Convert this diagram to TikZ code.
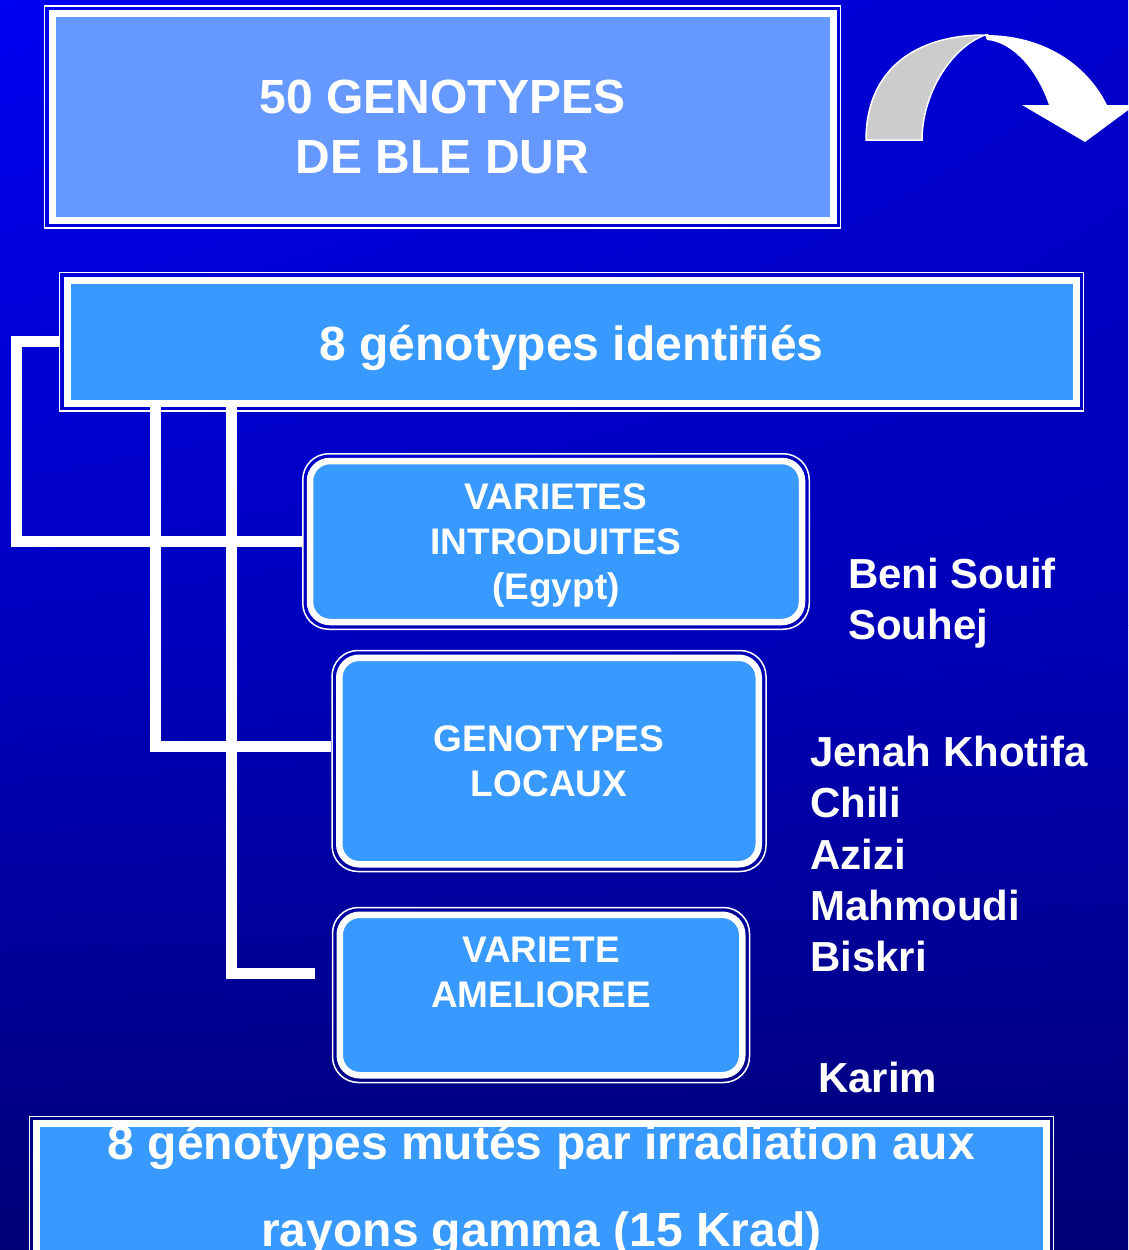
\documentclass[tikz,border=0pt]{standalone}
\usepackage{fontspec}
\setmainfont{Liberation Sans}
\usetikzlibrary{fit,shadings}
\definecolor{topleft}{RGB}{0,0,242}
\definecolor{topright}{RGB}{0,0,205}
\definecolor{midleft}{RGB}{0,0,192}
\definecolor{midright}{RGB}{0,0,182}
\definecolor{lowblue}{RGB}{0,0,118}
\definecolor{paleblue}{HTML}{6699FF}
\definecolor{skyblue}{HTML}{3899FF}
\definecolor{backgray}{HTML}{CCCCCC}

\begin{document}
\begin{tikzpicture}[x=1pt, y=-1pt,
  panel/.style={draw=white, line width=7pt, text=white, align=center, inner sep=0pt},
  headbox/.style={panel, fill=paleblue, font=\bfseries\fontsize{48}{60}\selectfont},
  bandbox/.style={panel, fill=skyblue, font=\bfseries\fontsize{48}{87}\selectfont},
  groupbox/.style={panel, line width=6.5pt, fill=skyblue, rounded corners=20pt, font=\bfseries\fontsize{37}{45}\selectfont},
  rim/.style={draw=white, line width=1.5pt, inner sep=4pt},
  roundrim/.style={rim, rounded corners=26pt},
  sidelist/.style={text=white, align=left, anchor=north west, inner sep=0pt, font=\bfseries\fontsize{42}{51.3}\selectfont},
  link/.style={draw=white, line width=11pt}
]
\useasboundingbox (0,0) rectangle (1128,1250);
\shade[upper left=topleft, upper right=topright, lower left=midleft, lower right=midright] (0,0) rectangle (1128,625);
\shade[upper left=midleft, upper right=midright, lower left=lowblue, lower right=lowblue] (0,625) rectangle (1128,1250);

% curved arrow, top right
\filldraw[fill=backgray, draw=white, line width=1.5pt]
  (866,140) .. controls (866,70) and (915,35) .. (985,35)
  .. controls (950,48) and (922,95) .. (922,140) -- cycle;
\fill[white]
  (985,35) .. controls (1050,35) and (1090,70) .. (1107,105)
  -- (1135,105) -- (1085,142) -- (1022,105) -- (1049,105)
  .. controls (1035,65) and (1010,42) .. (987,40) -- cycle;

% boxes
\node[headbox, minimum width=781pt, minimum height=207pt] (collection) at (442.5,117)
  {\rule{0pt}{54pt}50 GENOTYPES\\DE BLE DUR};
\node[bandbox, minimum width=1009pt, minimum height=123.5pt, text height=38pt, text depth=0pt] (identified) at (571.5,341.75)
  {8 génotypes identifiés};
\node[groupbox, minimum width=492pt, minimum height=161pt] (introduced) at (556,541.5)
  {\rule{0pt}{34pt}VARIETES\\INTRODUITES\\(Egypt)};
\node[groupbox, minimum width=419.5pt, minimum height=206.5pt] (local) at (549,761)
  {GENOTYPES\\LOCAUX};
\node[groupbox, minimum width=402.5pt, minimum height=160.5pt] (improved) at (541,995)
  {VARIETE\\AMELIOREE\\\mbox{}};
\node[bandbox, minimum width=1009.3pt, minimum height=129pt] (mutants) at (541.4,1190)
  {8 génotypes mutés par irradiation aux\\rayons gamma (15 Krad)};

\node[rim, fit=(collection)] (collection-rim) {};
\node[rim, fit=(identified)] (identified-rim) {};
\node[roundrim, fit=(introduced)] (introduced-rim) {};
\node[roundrim, fit=(local)] (local-rim) {};
\node[roundrim, fit=(improved)] (improved-rim) {};
\node[rim, fit=(mutants)] (mutants-rim) {};

% names next to the groups
\node[sidelist] (egypt-names) at (848,558) {Beni Souif\\Souhej};
\node[sidelist] (local-names) at (810,736) {Jenah Khotifa\\Chili\\Azizi\\Mahmoudi\\Biskri};
\node[sidelist] (improved-names) at (818,1062) {Karim};

% links
\coordinate (improved-end) at ([xshift=-22pt,yshift=22pt]improved.west);
\draw[link] (identified-rim.west) -- ++(-42,0) |- (introduced-rim.west);
\draw[link] ([xshift=92pt]identified.south west) |- ([yshift=15pt]local-rim.west);
\draw[link] ([xshift=168pt]identified.south west) |- (improved-end);
\end{tikzpicture}
\end{document}
